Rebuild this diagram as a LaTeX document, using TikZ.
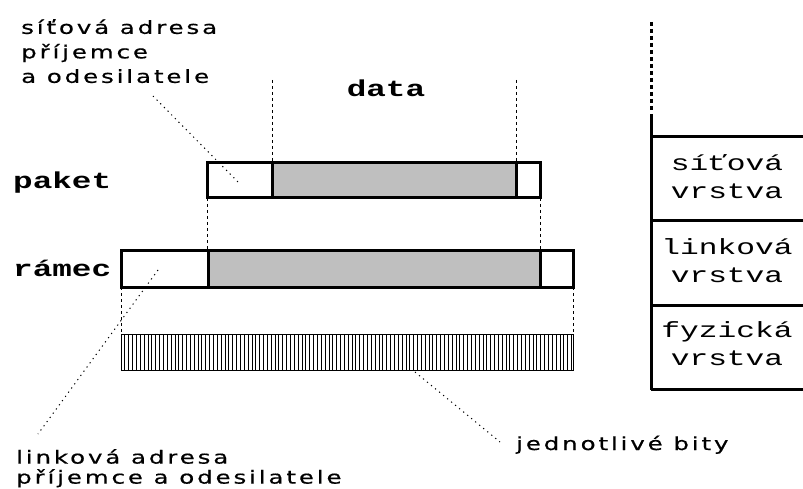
\documentclass[tikz,border=0pt]{standalone}
\usepackage{fontspec}
\newfontfamily\pixfont[FakeStretch=1.36,LetterSpace=16,FakeBold=0.6]{DejaVu Sans}
\newfontfamily\serfont[FakeStretch=1.42]{Liberation Mono}
\begin{document}
\begin{tikzpicture}[x=1pt,y=-1pt,
  lbl/.style={font=\pixfont\fontsize{18}{24.5}\selectfont, inner sep=0pt, align=left},
  ttl/.style={font=\serfont\bfseries\fontsize{23}{28}\selectfont, inner sep=0pt},
  stk/.style={font=\serfont\fontsize{22}{28}\selectfont, inner sep=0pt, align=center},
  box/.style={line width=3pt},
  guide/.style={line width=0.8pt, dash pattern=on 3pt off 3pt},
  leader/.style={line width=1pt, dash pattern=on 1.2pt off 4pt},
  dotline/.style={line width=3pt, dash pattern=on 4pt off 3pt}]
\useasboundingbox (0,0) rectangle (803,489);
% texts
\node[lbl, anchor=north west] (sadr) at (21,19) {síťová adresa\\příjemce\\a odesilatele};
\node[ttl] (data) at (386,88) {data};
\node[ttl, anchor=west] (paket) at (13,183) {paket};
\node[ttl, anchor=west] (ramec) at (13,268) {rámec};
\node[lbl, anchor=north west, font=\pixfont\fontsize{18}{20}\selectfont] (ladr) at (16,449) {linková adresa\\příjemce a odesilatele};
\node[lbl, anchor=base west] (bity) at (516,450) {jednotlivé bity};
% packet
\fill[black!25] (272,163) rectangle (516,198);
\draw[box] (207,163) rectangle (540,198);
\draw[box] (272,163) -- (272,198) (516,163) -- (516,198);
% frame
\fill[black!25] (208,250) rectangle (540,287);
\draw[box] (121,250) rectangle (573,287);
\draw[box] (208,250) -- (208,287) (540,250) -- (540,287);
% bits
\foreach \i in {0,...,117} \draw[line width=0.8pt] ({121+\i*3.85},334) -- ({121+\i*3.85},370);
\draw[line width=0.8pt] (121,334) rectangle (573,370);
% guides
\draw[guide] (272,80) -- (272,163) (516,80) -- (516,163);
\draw[guide] (207,198) -- (207,250) (540,198) -- (540,250);
\draw[guide] (121,287) -- (121,334) (573,287) -- (573,334);
% leaders
\coordinate (s1) at (153,96); \coordinate (s2) at (238,182);
\draw[leader] (s1) -- (s2);
\coordinate (l1) at (158,270); \coordinate (l2) at (38,434);
\draw[leader] (l1) -- (l2);
\coordinate (b1) at (415,372); \coordinate (b2) at (500,442);
\draw[leader] (b1) -- (b2);
% stack
\draw[dotline] (651,22) -- (651,112);
\draw[box] (651,114) -- (651,390);
\draw[box] (651,137) -- (803,137) (651,221) -- (803,221) (651,305) -- (803,305) (651,389) -- (803,389);
\node[stk] (net) at (727,177) {síťová\\vrstva};
\node[stk] (link) at (727,261) {linková\\vrstva};
\node[stk] (phys) at (727,344) {fyzická\\vrstva};
\end{tikzpicture}
\end{document}
